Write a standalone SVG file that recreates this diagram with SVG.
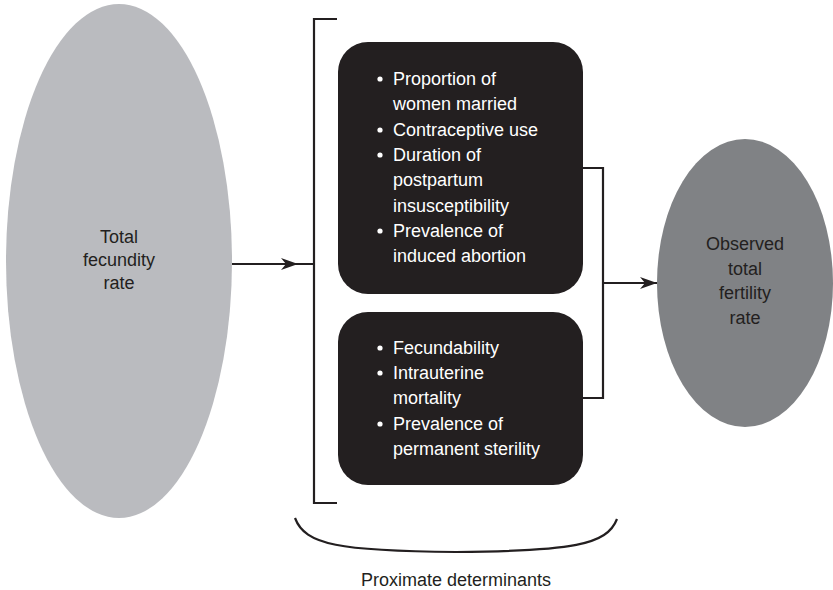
<svg xmlns="http://www.w3.org/2000/svg" width="833" height="590" viewBox="0 0 833 590">
<style>
.lbl{font-family:"Liberation Sans",Arial,sans-serif;font-size:18px;fill:#231f20;text-anchor:middle}
.bt{font-family:"Liberation Sans",Arial,sans-serif;font-size:18px;fill:#ffffff}
.box{fill:#231f20}
.ln{fill:none;stroke:#231f20;stroke-width:2.2}
.dot{fill:#ffffff}
</style>
<defs>
<marker id="ah" markerUnits="userSpaceOnUse" markerWidth="18" markerHeight="14" refX="17" refY="7" orient="auto">
<path d="M0,1 L17,7 L0,13 L5,7 z" fill="#231f20"/>
</marker>
</defs>
<g id="fecundity">
<ellipse cx="119" cy="261" rx="113" ry="257" fill="#babbbf"/>
<text class="lbl" x="119" y="243">Total</text>
<text class="lbl" x="119" y="266">fecundity</text>
<text class="lbl" x="119" y="289">rate</text>
</g>
<g id="box1">
<rect class="box" x="338" y="42" width="245" height="252" rx="30"/>
<circle class="dot" cx="380" cy="79" r="2.6"/>
<text class="bt" x="393" y="85">Proportion of</text>
<text class="bt" x="393" y="110">women married</text>
<circle class="dot" cx="380" cy="130" r="2.6"/>
<text class="bt" x="393" y="136">Contraceptive use</text>
<circle class="dot" cx="380" cy="155" r="2.6"/>
<text class="bt" x="393" y="161">Duration of</text>
<text class="bt" x="393" y="186">postpartum</text>
<text class="bt" x="393" y="212">insusceptibility</text>
<circle class="dot" cx="380" cy="231" r="2.6"/>
<text class="bt" x="393" y="237">Prevalence of</text>
<text class="bt" x="393" y="262">induced abortion</text>
</g>
<g id="box2">
<rect class="box" x="338" y="312" width="245" height="173" rx="30"/>
<circle class="dot" cx="380" cy="348" r="2.6"/>
<text class="bt" x="393" y="354">Fecundability</text>
<circle class="dot" cx="380" cy="373" r="2.6"/>
<text class="bt" x="393" y="379">Intrauterine</text>
<text class="bt" x="393" y="404">mortality</text>
<circle class="dot" cx="380" cy="424" r="2.6"/>
<text class="bt" x="393" y="430">Prevalence of</text>
<text class="bt" x="393" y="455">permanent sterility</text>
</g>
<g id="observed">
<ellipse cx="745" cy="283" rx="88" ry="144" fill="#808285"/>
<text class="lbl" x="745" y="250">Observed</text>
<text class="lbl" x="745" y="275">total</text>
<text class="lbl" x="745" y="299">fertility</text>
<text class="lbl" x="745" y="324">rate</text>
</g>
<g id="proximate-label">
<text class="lbl" x="456" y="586">Proximate determinants</text>
</g>
<g id="connectors">
<line class="ln" x1="232" y1="264" x2="313" y2="264"/>
<line class="ln" x1="232" y1="264" x2="298" y2="264" marker-end="url(#ah)"/>
<path class="ln" d="M337,19 H314 V503 H337"/>
<path class="ln" d="M583,168 H603 V398 H583"/>
<line class="ln" x1="603" y1="283" x2="657" y2="283" marker-end="url(#ah)"/>
<path class="ln" d="M295,518 C305,545 340,551 456,552 C572,551 607,545 617,519"/>
</g>
</svg>
